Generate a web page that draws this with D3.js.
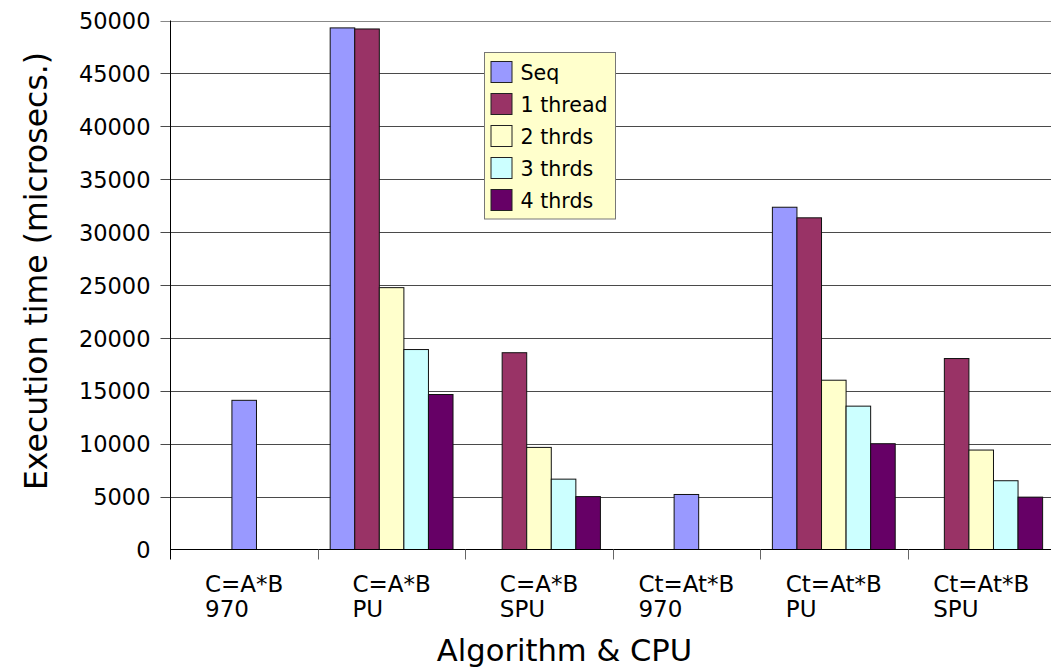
<!DOCTYPE html>
<html>
<head>
<meta charset="utf-8">
<script src="https://cdn.jsdelivr.net/npm/d3@7"></script>
<style>
  html, body { margin: 0; padding: 0; background: #fff; }
  svg { display: block; font-family: "DejaVu Sans", sans-serif; }
</style>
</head>
<body>
<svg id="chart" width="1051" height="669"></svg>
<script>
// Matrix multiplication timings, grouped by algorithm & CPU
const categories = [
  ["C=A*B", "970"],
  ["C=A*B", "PU"],
  ["C=A*B", "SPU"],
  ["Ct=At*B", "970"],
  ["Ct=At*B", "PU"],
  ["Ct=At*B", "SPU"]
];
const seriesNames = ["Seq", "1 thread", "2 thrds", "3 thrds", "4 thrds"];
const seriesColors = ["#9999FF", "#993366", "#FFFFCC", "#CCFFFF", "#660066"];

// Execution time in microseconds; null where a configuration was not run
const seqTimes     = [14100, 49300, null, 5200, 32350, null];
const thread1Times = [null, 49200, 18600, null, 31350, 18050];
const thread2Times = [null, 24750, 9650, null, 16000, 9400];
const thread3Times = [null, 18900, 6650, null, 13550, 6500];
const thread4Times = [null, 14650, 5000, null, 10000, 4950];

const yTicks = [0, 5000, 10000, 15000, 20000, 25000, 30000, 35000, 40000, 45000, 50000];

const seriesValues = [seqTimes, thread1Times, thread2Times, thread3Times, thread4Times];

const svg = d3.select("#chart");
const plot = { left: 170.5, top: 20.5, bottom: 549.5, step: 147.4 };
plot.right = plot.left + plot.step * categories.length;

const catKeys = categories.map(c => c.join("\n"));
const x0 = d3.scaleBand().domain(catKeys).range([plot.left, plot.right]).padding(0);
const x1 = d3.scaleBand().domain(seriesNames).range([0, x0.bandwidth()])
  .paddingInner(0).paddingOuter(0.5);
const y = d3.scaleLinear().domain([0, 50000]).range([plot.bottom, plot.top]);

// Y ticks and labels
const yAxis = d3.axisLeft(y).tickValues(yTicks).tickSize(10).tickSizeOuter(0)
  .tickFormat(d3.format("d"));
const gy = svg.append("g").attr("transform", `translate(${plot.left},0)`).call(yAxis);
gy.select(".domain").remove();
gy.selectAll(".tick line").attr("stroke", "#555").attr("x2", 0);
gy.selectAll(".tick text")
  .attr("font-size", 22.5).attr("fill", "#000")
  .attr("font-family", "DejaVu Sans, sans-serif")
  .attr("x", -20).attr("dy", "0.36em");

// Horizontal gridlines
svg.append("g").selectAll("line.grid")
  .data(yTicks.filter(v => v > 0))
  .join("line")
  .attr("x1", plot.left - 10).attr("x2", 1051)
  .attr("y1", d => Math.round(y(d)) + 0.5).attr("y2", d => Math.round(y(d)) + 0.5)
  .attr("stroke", d => d === 50000 ? "#888" : "#4a4a4a");

// Bars
const bars = [];
categories.forEach((c, ci) => {
  const key = catKeys[ci];
  const present = seriesNames.map((s, si) => ({ s, si, v: seriesValues[si][ci] }))
    .filter(d => d.v != null);
  present.forEach(d => {
    let bx;
    if (present.length === 1) {
      // single configuration sits in the middle of its group
      bx = x0(key) + (x0.bandwidth() - x1.bandwidth()) / 2;
    } else {
      bx = x0(key) + x1(d.s);
    }
    bars.push({ x: bx, v: d.v, color: seriesColors[d.si] });
  });
});

svg.append("g").selectAll("rect")
  .data(bars)
  .join("rect")
  .attr("x", d => d.x)
  .attr("width", x1.bandwidth())
  .attr("y", d => y(d.v))
  .attr("height", d => y(0) - y(d.v))
  .attr("fill", d => d.color)
  .attr("stroke", "#111")
  .attr("stroke-width", 1);

// Axis lines
svg.append("line")
  .attr("x1", plot.left).attr("x2", plot.left)
  .attr("y1", plot.top).attr("y2", plot.bottom + 10)
  .attr("stroke", "#000");
svg.append("line")
  .attr("x1", plot.left).attr("x2", 1051)
  .attr("y1", plot.bottom).attr("y2", plot.bottom)
  .attr("stroke", "#000");

// Category boundary ticks
svg.append("g").selectAll("line")
  .data(catKeys.slice(1))
  .join("line")
  .attr("x1", d => Math.round(x0(d)) + 0.5).attr("x2", d => Math.round(x0(d)) + 0.5)
  .attr("y1", plot.bottom).attr("y2", plot.bottom + 10)
  .attr("stroke", "#666");

// Category labels: two left-aligned lines, block centred in band
const catLabels = svg.append("g").selectAll("text")
  .data(categories)
  .join("text")
  .attr("font-size", 23)
  .attr("fill", "#000");
catLabels.each(function(c, i) {
  const t = d3.select(this);
  c.forEach((line, li) => {
    t.append("tspan").text(line).attr("y", 591.5 + li * 25);
  });
  const w = d3.max(t.selectAll("tspan").nodes(), n => n.getComputedTextLength());
  const left = x0(catKeys[i]) + x0.bandwidth() / 2 - w / 2;
  t.selectAll("tspan").attr("x", left);
});

// Axis titles
svg.append("text")
  .attr("transform", "translate(46.5,271) rotate(-90)")
  .attr("text-anchor", "middle")
  .attr("font-size", 31.5)
  .attr("fill", "#000")
  .text("Execution time (microsecs.)");

svg.append("text")
  .attr("x", 564.5).attr("y", 661)
  .attr("text-anchor", "middle")
  .attr("font-size", 30.6)
  .attr("fill", "#000")
  .text("Algorithm & CPU");

// Legend
const legend = svg.append("g").attr("transform", "translate(484.5,52.5)");
legend.append("rect")
  .attr("width", 131).attr("height", 166.5)
  .attr("fill", "#FFFFCC").attr("stroke", "#777");
const items = legend.selectAll("g.item")
  .data(seriesNames)
  .join("g")
  .attr("transform", (d, i) => `translate(6.5,${9 + i * 32})`);
items.append("rect")
  .attr("width", 21).attr("height", 21)
  .attr("fill", (d, i) => seriesColors[i])
  .attr("stroke", "#222");
items.append("text")
  .attr("x", 29.5).attr("y", 18.5)
  .attr("font-size", 20.6)
  .attr("fill", "#000")
  .text(d => d);
</script>
</body>
</html>
